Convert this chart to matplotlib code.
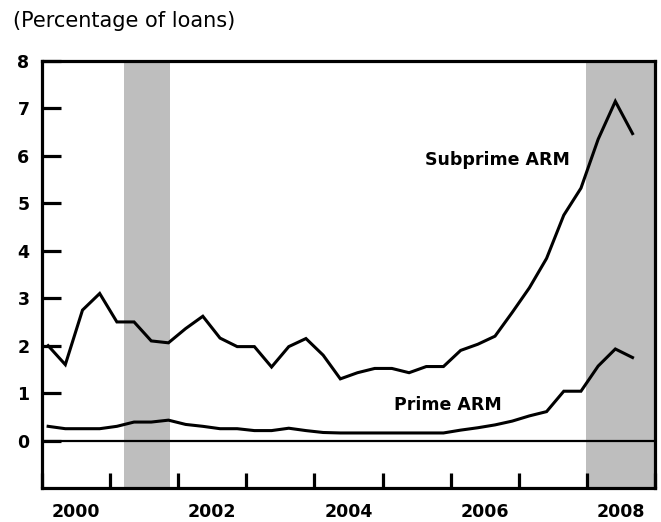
import matplotlib.pyplot as plt
import numpy as np

# Quarterly delinquency rates, 2000Q1 - 2008Q3 (percentage of loans)
subprime_arm = [2.00, 1.60, 2.75, 3.10, 2.50, 2.50, 2.10, 2.06, 2.36, 2.62,
                2.16, 1.98, 1.98, 1.55, 1.98, 2.15, 1.80, 1.30, 1.43, 1.52,
                1.52, 1.43, 1.56, 1.56, 1.90, 2.03, 2.20, 2.70, 3.22, 3.84,
                4.75, 5.32, 6.35, 7.15, 6.47]
prime_arm = [0.30, 0.25, 0.25, 0.25, 0.30, 0.39, 0.39, 0.43, 0.34, 0.30,
             0.25, 0.25, 0.21, 0.21, 0.26, 0.21, 0.17, 0.16, 0.16, 0.16,
             0.16, 0.16, 0.16, 0.16, 0.22, 0.27, 0.33, 0.41, 0.52, 0.61,
             1.04, 1.04, 1.57, 1.93, 1.75]
recessions = [(2001.20, 2001.88), (2007.99, 2009.0)]
year_labels = ["2000", "2002", "2004", "2006", "2008"]

# Quarter positions along the year axis
x = np.linspace(2000.09, 2008.67, len(subprime_arm))

fig = plt.figure(figsize=(6.61, 5.22), dpi=100, facecolor="white")
ax = fig.add_axes([42 / 661, 34 / 522, 613 / 661, 427 / 522])

# Shaded recession bands
for start, end in recessions:
    ax.axvspan(start, end, color="#bebebe", lw=0, zorder=0)

ax.axhline(0, color="black", lw=1.6, zorder=1)
ax.plot(x, subprime_arm, color="black", lw=2.2, solid_joinstyle="miter", zorder=2)
ax.plot(x, prime_arm, color="black", lw=2.2, solid_joinstyle="miter", zorder=2)

ax.set_xlim(2000, 2009)
ax.set_ylim(-1, 8)

for spine in ax.spines.values():
    spine.set_linewidth(2.3)

# Year boundary ticks, labels centred between them
ax.set_xticks(np.arange(2000, 2010))
ax.set_xticklabels([])
ax.set_xticks([int(y) + 0.5 for y in year_labels], minor=True)
ax.set_xticklabels(year_labels, minor=True)
ax.tick_params(axis="x", which="major", direction="in", length=11, width=2.3)
ax.tick_params(axis="x", which="minor", length=0, pad=11, labelsize=12.5)

ax.set_yticks(np.arange(0, 9))
ax.tick_params(axis="y", direction="in", length=13.5, width=2.3, pad=9, labelsize=12.5)

for lbl in ax.get_xticklabels(minor=True) + ax.get_yticklabels():
    lbl.set_fontweight("bold")

ax.text(2006.68, 5.91, "Subprime ARM", fontsize=12.5, fontweight="bold",
        ha="center", va="center")
ax.text(2005.96, 0.74, "Prime ARM", fontsize=12.5, fontweight="bold",
        ha="center", va="center")

fig.text(13 / 661, 1 - 21 / 522, "(Percentage of loans)", fontsize=15,
         ha="left", va="center")

fig.savefig("out.png", dpi=100)
